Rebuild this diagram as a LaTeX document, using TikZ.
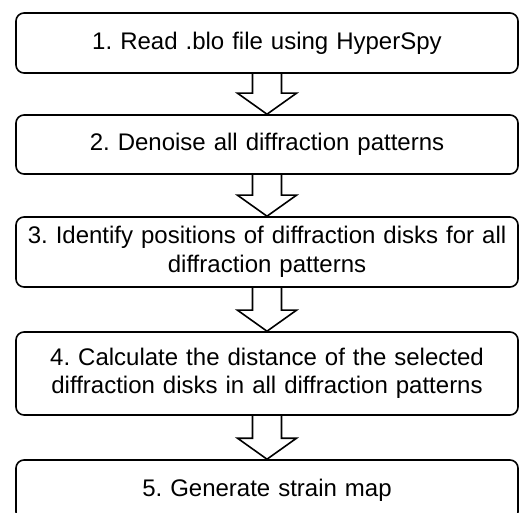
\documentclass[tikz,border=0pt]{standalone}
\usepackage{fontspec}
\setmainfont{Liberation Sans}
\usetikzlibrary{calc}

\tikzset{
  stepbox/.style={draw, line width=1.6pt, rounded corners=8pt, minimum width=502pt,
    text width=496pt, inner xsep=2pt, align=center, font=\fontsize{24}{28.5}\selectfont},
  hollowarrow/.style={draw, line width=1.6pt, line join=miter}
}
% block arrow from the bottom of #1 to the top of #2
\newcommand{\flowarrow}[2]{
  \draw [hollowarrow] ([xshift=-14.5pt]#1.south) -- ([xshift=-14.5pt, yshift=21pt]#2.north)
    -- ([xshift=-29.5pt, yshift=21pt]#2.north) -- (#2.north)
    -- ([xshift=29.5pt, yshift=21pt]#2.north) -- ([xshift=14.5pt, yshift=21pt]#2.north)
    -- ([xshift=14.5pt]#1.south);
}

\begin{document}
\frenchspacing
\begin{tikzpicture}[x=1pt, y=1pt]
    \useasboundingbox (0, 0) rectangle (520, -513);
    \clip (0, 0) rectangle (520, -513);
    % Steps
    \node [stepbox, minimum height=60pt] (read) at (267, -43) {1. Read .blo file using HyperSpy};
    \node [stepbox, minimum height=59pt] (denoise) at (267, -144.5) {2. Denoise all diffraction patterns};
    \node [stepbox, minimum height=70pt] (identify) at (267, -252) {3. Identify positions of diffraction disks for all\\diffraction patterns};
    \node [stepbox, minimum height=83pt] (calc) at (267, -373.5) {4. Calculate the distance of the selected\\diffraction disks in all diffraction patterns};
    \node [stepbox, minimum height=60pt] (strain) at (267, -490) {5. Generate strain map};
    % Arrows
    \flowarrow{read}{denoise}
    \flowarrow{denoise}{identify}
    \flowarrow{identify}{calc}
    \flowarrow{calc}{strain}
\end{tikzpicture}
\end{document}
